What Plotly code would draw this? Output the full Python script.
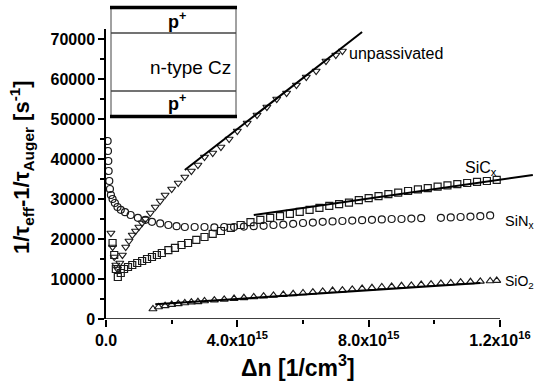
import numpy as np
import plotly.graph_objects as go

# ---- data (x in units of 1e15 cm^-3, y in s^-1) ----
unpass_x = [0.15, 0.2, 0.25, 0.3, 0.35, 0.42, 0.5, 0.6, 0.7, 0.8, 0.9, 1.0, 1.1, 1.2, 1.35, 1.5,
            1.65, 1.8, 2.0, 2.2, 2.4, 2.6, 2.8, 3.0, 3.25, 3.5, 3.75, 4.0, 4.3, 4.6, 4.9, 5.2,
            5.5, 5.8, 6.1, 6.4, 6.7, 7.0, 7.2]
unpass_y = [21500, 18000, 15500, 13500, 12500, 14000, 16000, 18000, 19500, 21000, 22000, 23000,
            24000, 25000, 26500, 28000, 29500, 31000, 32500, 34000, 35500, 37000, 38500, 40500,
            41500, 43000, 45000, 47000, 49000, 51000, 53000, 55000, 56500, 58500, 60500, 62000,
            64500, 66000, 67000]

sicx_x = [0.2, 0.25, 0.3, 0.36, 0.45, 0.55, 0.67, 0.8, 0.95, 1.1, 1.25, 1.4, 1.55, 1.7, 1.9, 2.1,
          2.3, 2.5, 2.75, 3.0, 3.25, 3.5, 3.8, 4.1, 4.4, 4.7, 5.0, 5.3, 5.6, 5.9, 6.2, 6.5, 6.8,
          7.1, 7.4, 7.7, 8.0, 8.3, 8.6, 8.9, 9.2, 9.5, 9.8, 10.1, 10.4, 10.7, 11.0, 11.3, 11.6, 11.9]
sicx_y = [19000, 16000, 12500, 10500, 11500, 12500, 13000, 13500, 14000, 14500, 15000, 15500,
          16000, 16500, 17200, 17800, 18500, 19000, 19800, 20500, 21300, 22000, 22800, 23500,
          24200, 24800, 25300, 25700, 26300, 26800, 27300, 27800, 28300, 28700, 29100, 29700,
          30200, 30700, 31200, 31600, 32000, 32400, 32700, 33100, 33400, 33700, 34000, 34300,
          34500, 34800]

sinx_x = [0.05, 0.06, 0.07, 0.08, 0.1, 0.12, 0.15, 0.2, 0.27, 0.35, 0.45, 0.58, 0.75, 0.97, 1.2,
          1.4, 1.65, 1.9, 2.15, 2.4, 2.7, 3.0, 3.3, 3.6, 3.9, 4.2, 4.5, 4.8, 5.1, 5.4, 5.7, 6.0,
          6.3, 6.6, 6.9, 7.2, 7.5, 7.8, 8.1, 8.4, 8.7, 9.0, 9.3, 9.6, 10.2, 10.5, 10.8, 11.1,
          11.4, 11.7]
sinx_y = [44500, 42000, 39500, 37000, 34500, 32500, 31000, 30000, 29000, 28000, 27300, 26700,
          26000, 25300, 24800, 24300, 23900, 23500, 23200, 23000, 23000, 23000, 22900, 23000,
          23000, 23100, 23200, 23300, 23500, 23600, 23800, 24000, 24100, 24300, 24400, 24500,
          24600, 24700, 24800, 24900, 25000, 25000, 25100, 25200, 25300, 25400, 25500, 25600,
          25700, 25900]

sio2_x = [1.43, 1.6, 1.8, 2.0, 2.2, 2.4, 2.6, 2.8, 3.0, 3.3, 3.6, 3.9, 4.2, 4.5, 4.8, 5.1, 5.4,
          5.7, 6.0, 6.3, 6.6, 6.9, 7.2, 7.5, 7.8, 8.1, 8.4, 8.7, 9.0, 9.3, 9.6, 9.9, 10.2, 10.5,
          10.8, 11.1, 11.4, 11.7, 11.9]
sio2_y = [2500, 3000, 3300, 3600, 3800, 4000, 4200, 4300, 4500, 4700, 4900, 5100, 5300, 5500,
          5700, 5900, 6100, 6300, 6500, 6700, 6900, 7100, 7200, 7400, 7600, 7800, 8000, 8100,
          8300, 8400, 8600, 8700, 8900, 9000, 9200, 9300, 9400, 9500, 9600]

# linear fits (end points)
fit_unpass_x = [2.4, 7.8]
fit_unpass_y = [37250, 71750]
fit_sicx_x = [4.5, 13.0]
fit_sicx_y = [26000, 36000]
fit_sio2_x = [1.5, 11.4]
fit_sio2_y = [3700, 9000]

x_tickvals = [0, 4e15, 8e15, 1.2e16]
x_ticktext = ["0.0", "4.0x10<sup>15</sup>", "8.0x10<sup>15</sup>", "1.2x10<sup>16</sup>"]
y_tickvals = [0, 10000, 20000, 30000, 40000, 50000, 60000, 70000]
y_ticktext = ["0", "10000", "20000", "30000", "40000", "50000", "60000", "70000"]

E = 1e15
W, H = 534, 385
L, R, T, B = 106, 534, 29, 319
XMAX = 1.2e16 * (R - L) / (500 - L)
YMAX = 72500


def px(p):
    return (p - L) / (R - L)


def py(p):
    return (B - p) / (B - T)


FONT = "Arial, Liberation Sans, sans-serif"
MC = "#1a1a1a"

fig = go.Figure()
series = [
    (unpass_x, unpass_y, "triangle-down-open"),
    (sicx_x, sicx_y, "square-open"),
    (sinx_x, sinx_y, "circle-open"),
    (sio2_x, sio2_y, "triangle-up-open"),
]
for xs, ys, sym in series:
    fig.add_trace(go.Scatter(
        x=np.array(xs) * E, y=ys, mode="markers",
        marker=dict(symbol=sym, size=7, color=MC, line=dict(width=1.2, color=MC)),
        showlegend=False))

for xs, ys in [(fit_unpass_x, fit_unpass_y), (fit_sicx_x, fit_sicx_y), (fit_sio2_x, fit_sio2_y)]:
    fig.add_trace(go.Scatter(x=np.array(xs) * E, y=ys, mode="lines",
                             line=dict(color="black", width=2), showlegend=False))

shapes = [
    # x-axis line, only up to 1.2e16
    dict(type="line", xref="x", yref="y", x0=0, x1=1.2e16, y0=0, y1=0,
         line=dict(color="black", width=1.5), layer="above"),
    # inset
    dict(type="rect", xref="paper", yref="paper", x0=px(111), x1=px(236), y0=py(117), y1=py(7),
         line=dict(color="#444", width=1), fillcolor="white", layer="above"),
    dict(type="line", xref="paper", yref="paper", x0=px(111), x1=px(236), y0=py(33), y1=py(33),
         line=dict(color="#444", width=1.5), layer="above"),
    dict(type="line", xref="paper", yref="paper", x0=px(111), x1=px(236), y0=py(91), y1=py(91),
         line=dict(color="#444", width=1.5), layer="above"),
    dict(type="line", xref="paper", yref="paper", x0=px(110), x1=px(237), y0=py(7.5), y1=py(7.5),
         line=dict(color="black", width=3.5), layer="above"),
    dict(type="line", xref="paper", yref="paper", x0=px(110), x1=px(237), y0=py(116.5), y1=py(116.5),
         line=dict(color="black", width=3.5), layer="above"),
]

ann = []


def text(xp, yp, s, size=14, xanchor="center", bold=False, angle=0):
    ann.append(dict(x=px(xp), y=py(yp), xref="paper", yref="paper", text=s, showarrow=False,
                    xanchor=xanchor, yanchor="middle", textangle=angle,
                    font=dict(family=FONT, size=size, color="black",
                              weight="bold" if bold else "normal")))


text(177, 20, "p<sup>+</sup>", size=18, bold=True)
text(190, 67, "n-type Cz", size=19)
text(177, 103, "p<sup>+</sup>", size=18, bold=True)
text(347, 53, "unpassivated", size=16, xanchor="left")
text(463, 168, "SiC<sub>x</sub>", size=16, xanchor="left")
text(503, 222, "SiN<sub>x</sub>", size=14.5, xanchor="left")
text(503, 282, "SiO<sub>2</sub>", size=14, xanchor="left")
text(298, 366, "Δn [1/cm<sup>3</sup>]", size=23, bold=True)
text(21, 167, "1/τ<sub>eff</sub>-1/τ<sub>Auger</sub> [s<sup>-1</sup>]", size=22, bold=True, angle=-90)

fig.update_layout(
    width=W, height=H,
    margin=dict(l=L, r=W - R, t=T, b=H - B, autoexpand=False),
    paper_bgcolor="white", plot_bgcolor="white",
    shapes=shapes, annotations=ann,
    font=dict(family=FONT, color="black"),
    xaxis=dict(range=[0, XMAX], showgrid=False, zeroline=False, showline=False,
               automargin=False,
               tickvals=x_tickvals, ticktext=x_ticktext, ticks="outside", ticklen=7,
               tickwidth=1.5, tickcolor="black",
               tickfont=dict(family=FONT, size=16, color="black", weight="bold"),
               minor=dict(tickvals=[2e15, 6e15, 1e16], ticks="outside", ticklen=4,
                          tickwidth=1.5, tickcolor="black")),
    yaxis=dict(range=[0, YMAX], showgrid=False, zeroline=False, showline=True,
               automargin=False, linecolor="black", linewidth=1.5,
               tickvals=y_tickvals, ticktext=y_ticktext, ticks="outside", ticklen=6,
               tickwidth=1.5, tickcolor="black",
               tickfont=dict(family=FONT, size=16, color="black", weight="bold"),
               minor=dict(dtick=5000, ticks="outside", ticklen=4, tickwidth=1.5,
                          tickcolor="black")),
)

fig.write_html("out.html", config={"displayModeBar": False},
               post_script="document.body.style.margin='0';document.body.style.overflow='hidden';")
